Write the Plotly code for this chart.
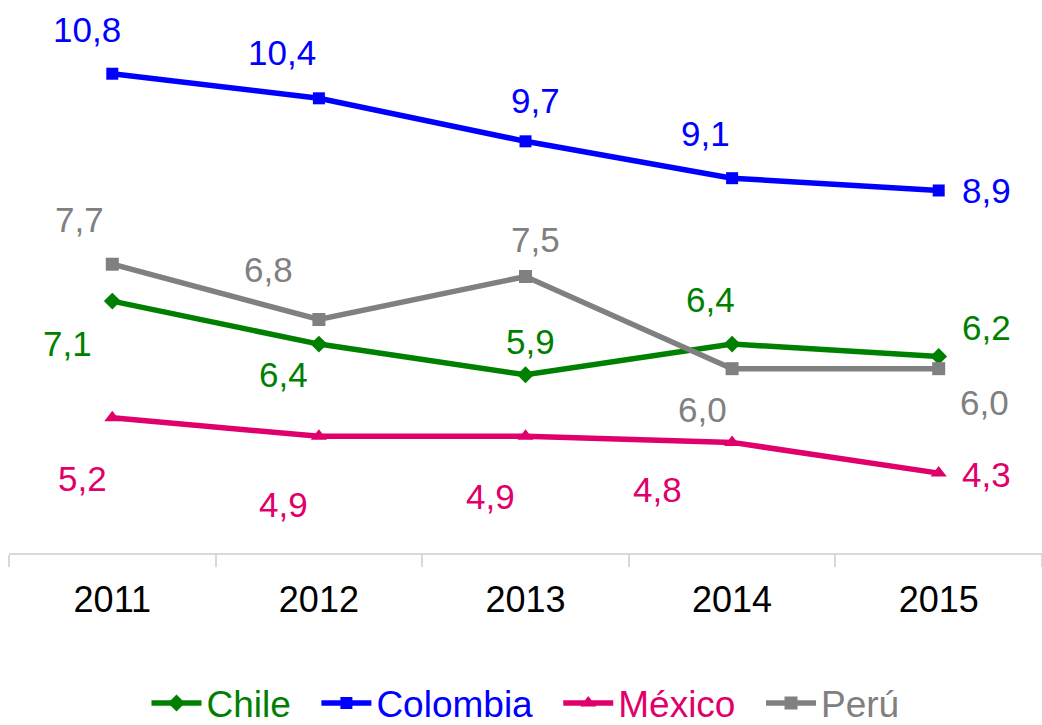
import plotly.graph_objects as go

years = ["2011", "2012", "2013", "2014", "2015"]
chile = [7.1, 6.4, 5.9, 6.4, 6.2]
colombia = [10.8, 10.4, 9.7, 9.1, 8.9]
mexico = [5.2, 4.9, 4.9, 4.8, 4.3]
peru = [7.7, 6.8, 7.5, 6.0, 6.0]

# label offsets (px) per point: (dx, dy) with dy positive = up
off_chile = [(-45, -42), (-35, -30), (5, 33), (-22, 45), (48, 29)]
off_colombia = [(-25, 44), (-37, 46), (10, 41), (-27, 45), (48, 0)]
off_mexico = [(-30, -61), (-35, -68), (-35, -60), (-75, -47), (48, -1)]
off_peru = [(-33, 45), (-50, 50), (10, 37), (-30, -41), (46, -34)]

series = [
    ("Chile", chile, "#008000", "diamond", 13, off_chile),
    ("Colombia", colombia, "#0000FF", "square", 12, off_colombia),
    ("México", mexico, "#E0006B", "triangle-up", 14, off_mexico),
    ("Perú", peru, "#808080", "square", 13, off_peru),
]

FONT = "Liberation Sans, Arial, sans-serif"

fig = go.Figure()
for k, (name, vals, color, sym, msize, offs) in enumerate(series):
    pad = "&nbsp;&nbsp;" if k < len(series) - 1 else ""
    fig.add_trace(go.Scatter(
        x=years, y=vals,
        name=f"<span style='color:{color}'>{name}</span>{pad}",
        mode="lines+markers",
        line=dict(color=color, width=5.5),
        marker=dict(symbol=sym, size=msize, color=color),
    ))

for name, vals, color, sym, msize, offs in series:
    for i, yv in enumerate(vals):
        dx, dy = offs[i]
        fig.add_annotation(
            x=i, y=yv, xref="x", yref="y",
            text=f"{yv:.1f}".replace(".", ","),
            showarrow=False, xshift=dx, yshift=dy,
            font=dict(size=35, color=color, family=FONT),
        )

fig.update_layout(
    width=1042, height=725,
    margin=dict(l=9, r=0, t=0, b=172, autoexpand=False),
    paper_bgcolor="white", plot_bgcolor="white",
    font=dict(family=FONT, color="black"),
    showlegend=True,
    legend=dict(
        orientation="h", x=0.5, xanchor="center", y=-0.272, yanchor="middle",
        font=dict(size=37),
        tracegroupgap=0, itemwidth=50,
    ),
    xaxis=dict(
        type="category", range=[-0.5, 4.5],
        showline=True, linecolor="#D9D9D9", linewidth=2,
        ticks="outside", tickson="boundaries", ticklen=12, tickcolor="#D9D9D9", tickwidth=2,
        showgrid=False, zeroline=False,
        tickfont=dict(size=36, color="black"),
        ticklabelstandoff=14,
    ),
    yaxis=dict(
        range=[3, 12], showgrid=False, zeroline=False, showline=False,
        showticklabels=False, ticks="",
    ),
)

fig.write_html(
    "out.html",
    config={"displayModeBar": False},
    post_script="document.body.style.margin='0';document.body.style.overflow='hidden';",
)
